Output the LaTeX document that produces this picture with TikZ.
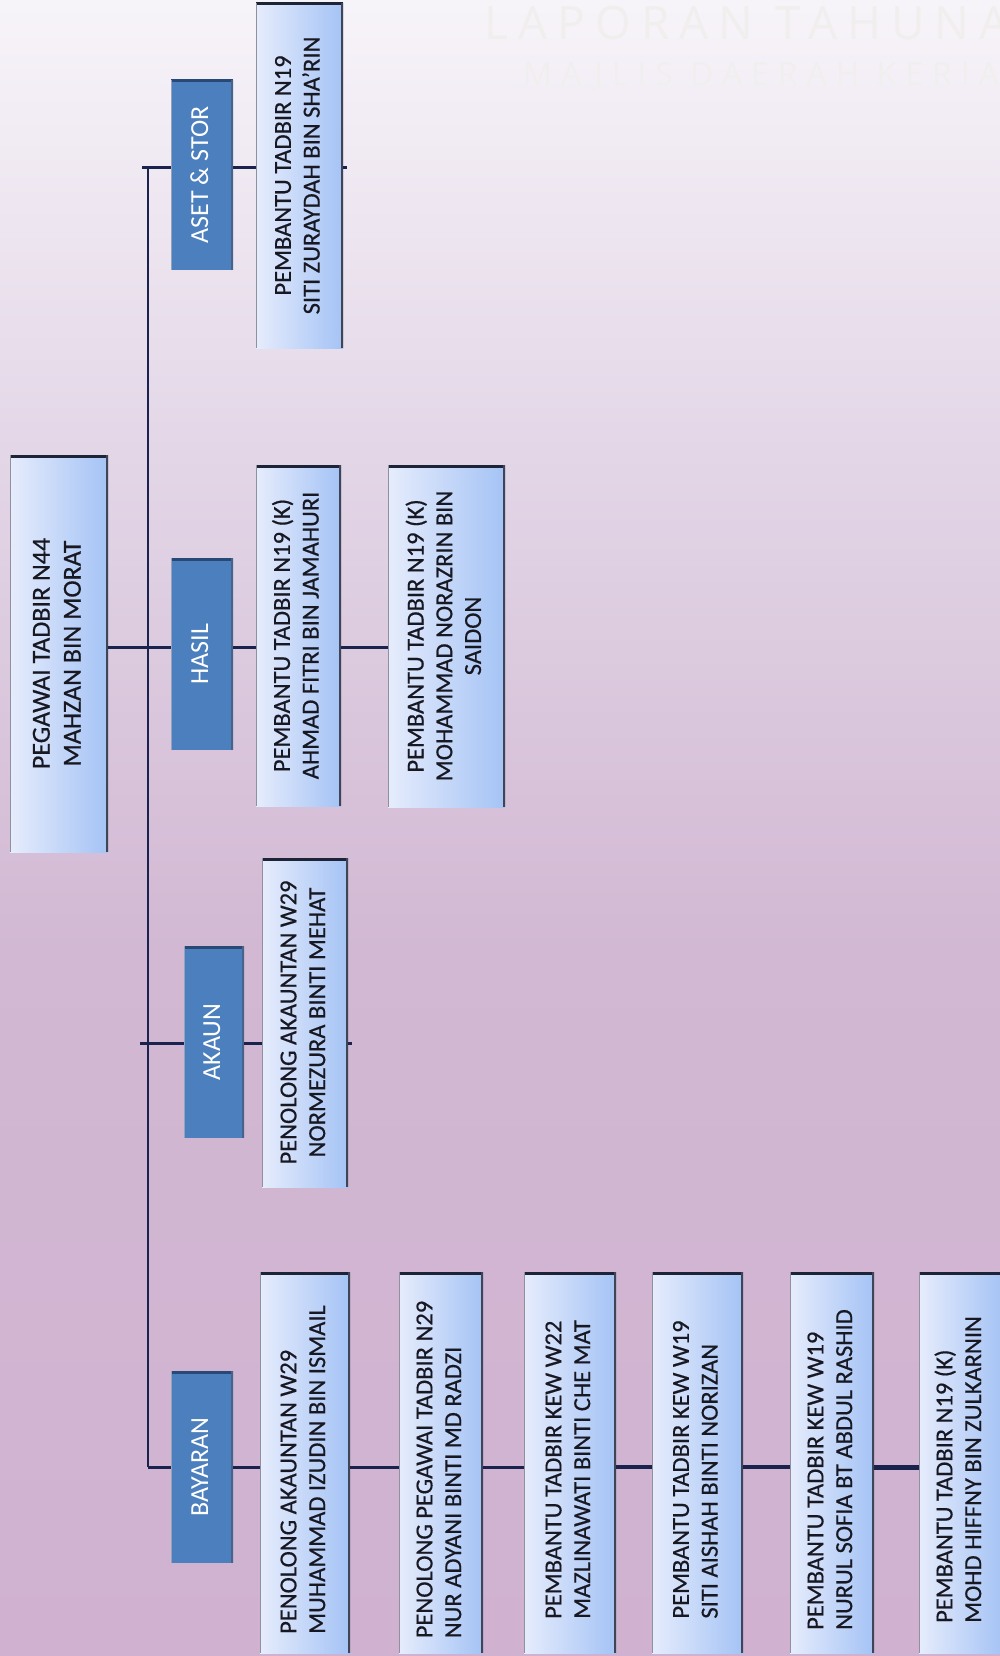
\documentclass[tikz,border=0pt]{standalone}
\usepackage{fontspec}
\setmainfont{Carlito}
\newfontfamily\cardfont{Carlito}[FakeBold=0.5]
\newfontfamily\wmfont{Open Sans}
\usepackage{graphicx}
\usetikzlibrary{calc}
\definecolor{bgtop}{RGB}{247,244,249}
\definecolor{bgmid}{RGB}{226,213,230}
\definecolor{bgbot}{RGB}{210,184,211}
\definecolor{bgend}{RGB}{208,178,208}
\definecolor{cardL}{RGB}{230,236,252}
\definecolor{cardR}{RGB}{164,195,245}
\definecolor{edgeD}{RGB}{30,36,56}
\definecolor{hdr}{RGB}{76,127,190}
\definecolor{hdrS}{RGB}{40,72,118}
\definecolor{linkc}{RGB}{26,34,78}
\definecolor{txt}{RGB}{24,24,34}
\definecolor{wm}{RGB}{240,239,238}
\newcommand\vtxt[2][c]{\rotatebox{90}{\begin{tabular}{@{}#1@{}}#2\end{tabular}}}
\newcommand\vtxtl[1]{\rotatebox{90}{\begin{tabular}{@{}l@{}}#1\end{tabular}\kern14pt}}
\tikzset{
  edges/.style={path picture={
    \draw[line width=5pt,#1] (path picture bounding box.north west) -- (path picture bounding box.north east);
    \draw[line width=4pt,#1!85] (path picture bounding box.north east) -- (path picture bounding box.south east);
    \draw[line width=1.5pt,#1!50] (path picture bounding box.north west) -- (path picture bounding box.south west);
  }},
  card/.style={inner sep=0pt, left color=cardL, right color=cardR, text=txt,
    font=\cardfont\fontsize{24.5}{28.7}\selectfont, edges=edgeD},
  hdrbox/.style={inner sep=0pt, fill=hdr, text=white,
    font=\fontsize{26}{30}\selectfont, edges=hdrS},
  hline/.style={draw=linkc, line width=3pt},
  vline/.style={draw=linkc, line width=2.2pt},
}
\begin{document}
\begin{tikzpicture}[x=1pt,y=-1pt]
\useasboundingbox (0,0) rectangle (1000,1656);
\clip (0,0) rectangle (1000,1656);
\shade[top color=bgtop, bottom color=bgbot, middle color=bgmid] (0,0) rectangle (1000,950);
\shade[top color=bgbot, bottom color=bgend] (0,949) rectangle (1000,1656);
% watermark
\node[anchor=base west, text=wm, inner sep=0pt,
  font=\wmfont\addfontfeatures{LetterSpace=22}\fontsize{46}{50}\selectfont] (wm1) at (484,40) {LAPORAN TAHUNAN};
\node[anchor=base west, text=wm, inner sep=0pt,
  font=\wmfont\addfontfeatures{LetterSpace=28}\fontsize{32}{36}\selectfont] (wm2) at (523,86) {MAJLIS DAERAH KERIAN};
% nodes
\node[card, minimum width=98, minimum height=397, font=\cardfont\fontsize{26}{31}\selectfont] (peg) at (59,653.5)
  {\vtxt{PEGAWAI TADBIR N44\\MAHZAN BIN MORAT}};
\node[hdrbox, minimum width=62, minimum height=190] (aset) at (202,175) {\vtxt{ASET \& STOR}};
\node[card, minimum width=87, minimum height=345] (siti) at (299.5,175.5)
  {\vtxt{PEMBANTU TADBIR N19\\SITI ZURAYDAH BIN SHA’RIN}};
\node[hdrbox, minimum width=62, minimum height=192] (hasil) at (202,654) {\vtxt{HASIL}};
\node[card, minimum width=85, minimum height=341] (ahmad) at (298.5,635.5)
  {\vtxt{PEMBANTU TADBIR N19 (K)\\AHMAD FITRI BIN JAMAHURI}};
\node[card, minimum width=117, minimum height=342] (mohd) at (446.5,636)
  {\vtxt{PEMBANTU TADBIR N19 (K)\\MOHAMMAD NORAZRIN BIN\\SAIDON}};
\node[hdrbox, minimum width=60, minimum height=192] (akaun) at (214,1042) {\vtxt{AKAUN}};
\node[card, minimum width=86, minimum height=329] (normez) at (305,1022.5)
  {\vtxt{PENOLONG AKAUNTAN W29\\NORMEZURA BINTI MEHAT}};
\node[hdrbox, minimum width=62, minimum height=192] (bayaran) at (202,1467) {\vtxt{BAYARAN}};
\node[card, minimum width=90, minimum height=381] (b1) at (305,1462.5)
  {\vtxtl{PENOLONG AKAUNTAN W29\\MUHAMMAD IZUDIN BIN ISMAIL}};
\node[card, minimum width=84, minimum height=381] (b2) at (441,1462.5)
  {\vtxtl{PENOLONG PEGAWAI TADBIR N29\\NUR ADYANI BINTI MD RADZI}};
\node[card, minimum width=92, minimum height=381] (b3) at (570,1462.5)
  {\vtxtl{PEMBANTU TADBIR KEW W22\\MAZLINAWATI BINTI CHE MAT}};
\node[card, minimum width=91, minimum height=381] (b4) at (697.5,1462.5)
  {\vtxtl{PEMBANTU TADBIR KEW W19\\SITI AISHAH BINTI NORIZAN}};
\node[card, minimum width=84, minimum height=381] (b5) at (832,1462.5)
  {\vtxtl{PEMBANTU TADBIR KEW W19\\NURUL SOFIA BT ABDUL RASHID}};
\node[card, minimum width=84, minimum height=381] (b6) at (961,1462.5)
  {\vtxtl{PEMBANTU TADBIR N19 (K)\\MOHD HIFFNY BIN ZULKARNIN}};
% junctions
\coordinate (jA) at (148,168);
\coordinate (jH) at (148,647);
\coordinate (jK) at (148,1043);
\coordinate (jB) at (148,1467);
% connectors
\draw[vline] (jA) -- (jB);
\draw[hline] (jB) -- (bayaran.west |- jB);
\draw[hline] ([xshift=-6pt]jA) -- (aset.west |- jA);
\draw[hline] (aset.east |- jA) -- (siti.west |- jA);
\draw[hline] (siti.east |- jA) -- ++(4,0);
\draw[hline] (peg.east |- jH) -- (hasil.west |- jH);
\draw[hline] (hasil.east |- jH) -- (ahmad.west |- jH);
\draw[hline] (ahmad.east |- jH) -- (mohd.west |- jH);
\draw[hline] ([xshift=-8pt]jK) -- (akaun.west |- jK);
\draw[hline] (akaun.east |- jK) -- (normez.west |- jK);
\draw[hline] (normez.east |- jK) -- ++(4,0);
\draw[hline] (bayaran.east |- jB) -- (b1.west |- jB);
\draw[hline] (b1.east |- jB) -- (b2.west |- jB);
\draw[hline] (b2.east |- jB) -- (b3.west |- jB);
\draw[hline, line width=3.5pt] (b3.east |- jB) -- (b4.west |- jB);
\draw[hline, line width=4pt] (b4.east |- jB) -- (b5.west |- jB);
\draw[hline, line width=5pt] (b5.east |- jB) -- (b6.west |- jB);
\end{tikzpicture}
\end{document}
